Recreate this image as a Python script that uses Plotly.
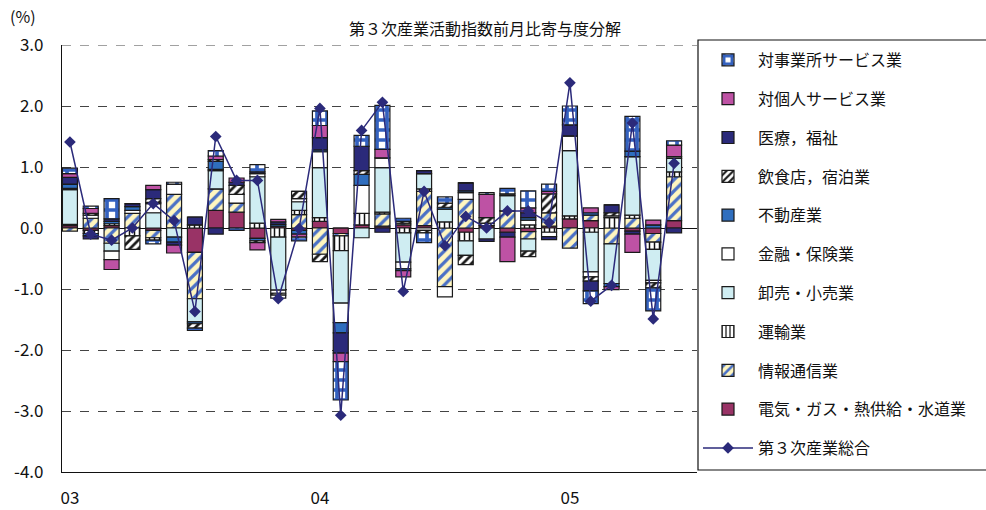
import plotly.graph_objects as go

# Months: Jan 2003 .. Jun 2005
months = [f"{y}/{m:02d}" for y in (2003, 2004, 2005) for m in range(1, 13)][:30]
year_ticks = ["2003/01", "2004/01", "2005/01"]
year_labels = ["03", "04", "05"]

# Contributions by sector (percentage points)
elec = [0.04, -0.04, 0.04, 0.00, -0.04, 0.00, -0.40, 0.29, 0.26, -0.17,
        0.03, -0.04, 0.11, -0.09, 0.05, 0.03, 0.05, 0.04, 0.00, -0.07,
        0.04, -0.07, -0.06, 0.03, 0.15, 0.12, 0.00, -0.05, -0.09, 0.12]
info = [-0.05, 0.16, -0.25, 0.24, -0.12, 0.55, -0.76, 0.35, 0.15, 0.00,
        0.00, 0.22, -0.43, -0.04, 0.00, 0.20, 0.03, 0.56, -0.96, 0.47,
        0.00, 0.28, -0.12, 0.22, -0.33, 0.09, -0.26, 0.16, -0.14, 0.72]
trans = [0.02, -0.05, 0.03, -0.13, -0.04, 0.00, 0.05, 0.00, 0.00, 0.08,
         -0.15, 0.07, 0.06, -0.24, 0.19, 0.03, -0.08, 0.04, 0.10, -0.14,
         0.00, 0.00, 0.05, -0.07, 0.05, -0.07, 0.17, 0.05, -0.12, 0.08]
trade = [0.57, 0.00, -0.13, 0.00, 0.25, -0.15, -0.38, 0.30, 0.00, 0.76,
         -0.87, 0.14, 0.82, -0.86, -0.16, 0.73, -0.48, 0.25, 0.21, -0.24,
         -0.18, 0.25, -0.20, 0.00, 1.07, -0.65, -0.65, 0.96, -0.51, 0.22]
fin = [0.02, 0.05, -0.14, 0.05, 0.15, 0.17, 0.00, 0.02, 0.14, 0.05,
       -0.05, 0.05, 0.26, -0.32, 0.46, 0.16, -0.11, -0.04, -0.17, 0.11,
       0.04, 0.03, 0.08, -0.07, 0.24, -0.08, 0.03, 0.00, -0.04, 0.03]
estate = [0.07, -0.04, 0.04, 0.06, 0.02, -0.08, -0.03, 0.13, 0.00, -0.04,
          0.03, -0.06, 0.03, -0.17, 0.18, 0.00, -0.03, 0.00, 0.03, 0.03,
          0.00, 0.00, 0.04, 0.00, 0.00, 0.04, -0.05, 0.09, 0.05, 0.00]
food = [0.00, 0.03, 0.00, -0.22, 0.06, 0.00, -0.07, 0.03, 0.15, -0.03,
        -0.03, 0.12, -0.12, 0.00, 0.06, 0.00, 0.03, -0.04, 0.07, -0.15,
        0.09, 0.00, -0.09, 0.31, 0.00, -0.07, 0.05, 0.00, -0.08, 0.00]
medical = [0.11, -0.05, 0.04, 0.05, 0.15, -0.05, 0.13, -0.10, 0.05, 0.03,
           0.04, 0.00, 0.20, -0.33, 0.40, -0.07, 0.00, 0.05, 0.00, 0.13,
           -0.04, -0.08, 0.08, -0.05, 0.18, -0.16, 0.13, -0.05, 0.00, -0.08]
personal = [0.06, 0.08, -0.16, 0.00, 0.07, -0.13, 0.00, 0.06, 0.07, -0.12,
            0.04, -0.05, 0.20, -0.14, 0.00, 0.14, -0.10, 0.00, 0.00, 0.00,
            0.38, -0.40, 0.08, 0.04, 0.00, 0.08, -0.05, -0.30, 0.08, 0.19]
business = [0.09, 0.04, 0.33, 0.00, -0.06, 0.03, -0.04, 0.09, -0.04, 0.12,
            -0.05, -0.06, 0.24, -0.63, 0.18, 0.72, 0.05, -0.16, 0.10, 0.00,
            0.03, 0.09, 0.28, 0.12, 0.31, -0.21, 0.00, 0.57, -0.38, 0.07]

# Tertiary industry activity index, month-on-month change (%)
total = [1.41, -0.10, -0.20, 0.00, 0.40, 0.12, -1.37, 1.50, 0.78, 0.78,
         -1.16, -0.01, 1.96, -3.07, 1.60, 2.06, -1.04, 0.60, -0.29, 0.19,
         0.00, 0.28, 0.28, 0.09, 2.38, -1.20, -0.94, 1.72, -1.49, 1.06]

FONT = "Noto Sans CJK JP"

# stacking order: first series sits next to zero
sectors = [
    ("電気・ガス・熱供給・水道業", elec, dict(color="#993366")),
    ("情報通信業", info, dict(color="#FFF6C0",
                          pattern=dict(shape="/", fgcolor="#4A70C6", bgcolor="#FFF6C0",
                                       size=8, solidity=0.4, fillmode="replace"))),
    ("運輸業", trans, dict(color="white",
                        pattern=dict(shape="|", fgcolor="#111111", bgcolor="white",
                                     size=5, solidity=0.3, fillmode="replace"))),
    ("卸売・小売業", trade, dict(color="#CFEDF2")),
    ("金融・保険業", fin, dict(color="white")),
    ("不動産業", estate, dict(color="#2F6EBE")),
    ("飲食店，宿泊業", food, dict(color="white",
                              pattern=dict(shape="/", fgcolor="#1A1A1A", bgcolor="white",
                                           size=6, solidity=0.45, fillmode="replace"))),
    ("医療，福祉", medical, dict(color="#2B2A7A")),
    ("対個人サービス業", personal, dict(color="#BE52A4")),
    ("対事業所サービス業", business, dict(color="white",
                                   pattern=dict(shape="+", fgcolor="#3461BE", bgcolor="white",
                                                size=10, solidity=0.6, fillmode="replace"))),
]

fig = go.Figure()
n = len(sectors)
for i, (name, vals, mk) in enumerate(sectors):
    mk = dict(mk)
    mk["line"] = dict(color="#1A1A1A", width=1.2)
    fig.add_trace(go.Bar(
        x=months, y=vals, name=name, marker=mk, width=0.72,
        legendgroup=name, legendrank=100 + (n - i),
    ))

fig.add_trace(go.Scatter(
    x=months, y=total, name="第３次産業総合", mode="lines+markers",
    line=dict(color="#2B2A7A", width=1.5),
    marker=dict(symbol="diamond", size=9, color="#2B2A7A"),
    legendgroup="total", legendrank=200,
))

# plot area spans x 62..697 px and y 45..472 px
px_x = lambda p: (p - 62) / 635
px_y = lambda p: (472 - p) / 427

fig.update_layout(
    width=986, height=510,
    margin=dict(l=62, r=289, t=45, b=38, autoexpand=False),
    barmode="relative",
    paper_bgcolor="white", plot_bgcolor="white",
    font=dict(family=FONT, size=15, color="#111111"),
    showlegend=True,
    legend=dict(
        xref="container", yref="container", x=698 / 986, y=1 - 43 / 510,
        xanchor="left", yanchor="top", maxheight=1.0,
        bgcolor="rgba(0,0,0,0)", borderwidth=0,
        font=dict(family=FONT, size=16), tracegroupgap=15,
        itemwidth=50, traceorder="grouped",
    ),
    shapes=[
        # top grid line at 3.0
        dict(type="line", xref="paper", yref="y", x0=0, x1=1, y0=3, y1=3,
             line=dict(color="#444444", width=1, dash="dash"), layer="below"),
        # legend frame, running off the right edge
        dict(type="rect", xref="paper", yref="paper",
             x0=px_x(698), x1=px_x(995), y0=px_y(470), y1=px_y(40),
             line=dict(color="#111111", width=1.2), fillcolor="white", layer="below"),
    ],
    annotations=[
        dict(text="第３次産業活動指数前月比寄与度分解", xref="paper", yref="paper",
             x=px_x(485), y=px_y(28), xanchor="center", yanchor="middle",
             showarrow=False, font=dict(family=FONT, size=16)),
        dict(text="(%)", xref="paper", yref="paper",
             x=px_x(8), y=px_y(16), xanchor="left", yanchor="middle",
             showarrow=False, font=dict(family=FONT, size=16)),
    ],
)

fig.update_xaxes(
    type="category", range=[-0.38, 30.1], automargin=False,
    tickmode="array", tickvals=year_ticks, ticktext=year_labels,
    ticks="outside", ticklen=10, tickcolor="rgba(0,0,0,0)",
    tickfont=dict(family=FONT, size=17),
    showline=True, linecolor="#111111", linewidth=1.2,
    showgrid=False, zeroline=False,
)
fig.update_yaxes(
    range=[-4, 3], automargin=False, tickmode="array",
    tickvals=[3, 2, 1, 0, -1, -2, -3, -4],
    ticktext=["3.0", "2.0", "1.0", "0.0", "-1.0", "-2.0", "-3.0", "-4.0"],
    ticks="outside", ticklen=14, tickcolor="rgba(0,0,0,0)",
    tickfont=dict(family=FONT, size=17),
    showline=True, linecolor="#111111", linewidth=1.2,
    showgrid=True, gridcolor="#444444", gridwidth=1, griddash="dash",
    zeroline=True, zerolinecolor="#111111", zerolinewidth=1,
)

fig.write_html("out.html")
